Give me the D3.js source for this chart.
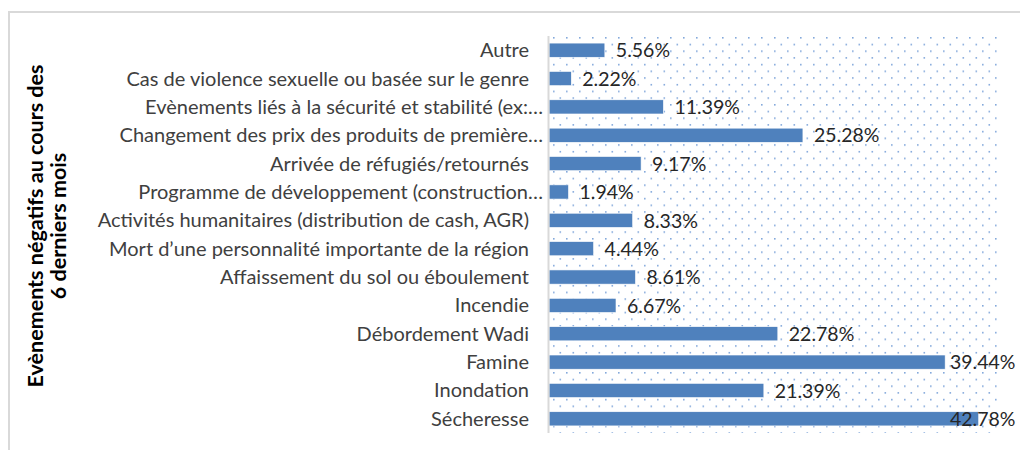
<!DOCTYPE html>
<html>
<head>
<meta charset="utf-8">
<script src="https://cdn.jsdelivr.net/npm/d3@7"></script>
<style>
  body { margin: 0; background: #fff; }
  svg { display: block; font-family: Lato, "Open Sans", sans-serif; }
</style>
</head>
<body>
<script>
// categories from top to bottom
var categories = [
  "Autre",
  "Cas de violence sexuelle ou basée sur le genre",
  "Evènements liés à la sécurité et stabilité (ex:…",
  "Changement des prix des produits de première…",
  "Arrivée de réfugiés/retournés",
  "Programme de développement (construction…",
  "Activités humanitaires (distribution de cash, AGR)",
  "Mort d’une personnalité importante de la région",
  "Affaissement du sol ou éboulement",
  "Incendie",
  "Débordement Wadi",
  "Famine",
  "Inondation",
  "Sécheresse"
]
var values = [5.56, 2.22, 11.39, 25.28, 9.17, 1.94, 8.33, 4.44, 8.61, 6.67, 22.78, 39.44, 21.39, 42.78]
var yTitle = ["Evènements négatifs au cours des", "6 derniers mois"]

var width = 1020, height = 450
var plot = {left: 549, right: 1001, top: 36, bottom: 433}

var svg = d3.select("body").append("svg")
    .attr("width", width)
    .attr("height", height)

// dotted background pattern
var defs = svg.append("defs")
var pat = defs.append("pattern")
    .attr("id", "dots")
    .attr("patternUnits", "userSpaceOnUse")
    .attr("x", plot.left + 4).attr("y", plot.top + 1)
    .attr("width", 13).attr("height", 13.4)
pat.append("rect").attr("x", 0).attr("y", 0).attr("width", 1.6).attr("height", 1.6).attr("fill", "#5b8ccf")
pat.append("rect").attr("x", 6.5).attr("y", 6.7).attr("width", 1.6).attr("height", 1.6).attr("fill", "#5b8ccf")

// outer frame (cut off at right / bottom)
svg.append("rect")
    .attr("x", 9).attr("y", 12)
    .attr("width", 1200).attr("height", 600)
    .attr("fill", "none")
    .attr("stroke", "#d9d9d9")
    .attr("stroke-width", 2)

var x = d3.scaleLinear().domain([0, 45]).range([plot.left, plot.right])
var y = d3.scaleBand().domain(categories).range([plot.top, plot.bottom])
    .paddingInner(0.5).paddingOuter(0.25)

svg.append("rect")
    .attr("x", plot.left).attr("y", plot.top)
    .attr("width", plot.right - plot.left).attr("height", plot.bottom - plot.top)
    .attr("fill", "url(#dots)")
    .attr("opacity", 0.75)

// bars
svg.selectAll(".bar")
    .data(values)
    .enter()
    .append("rect")
    .attr("class", "bar")
    .attr("x", x(0))
    .attr("y", function (d, i) { return y(categories[i]) })
    .attr("width", function (d) { return x(d) - x(0) })
    .attr("height", y.bandwidth())
    .attr("fill", "#4f81bd")
    .attr("stroke", "#ffffff")
    .attr("stroke-width", 0.6)

// axis line
svg.append("line")
    .attr("x1", plot.left - 0.5).attr("x2", plot.left - 0.5)
    .attr("y1", plot.top).attr("y2", plot.bottom)
    .attr("stroke", "#d9d9d9")
    .attr("stroke-width", 2)

// category labels
svg.selectAll(".cat")
    .data(categories)
    .enter()
    .append("text")
    .attr("class", "cat")
    .attr("x", function (d) { return d.slice(-1) == "…" ? 543 : 529 })
    .attr("y", function (d) { return y(d) + y.bandwidth() / 2 })
    .attr("dy", "0.35em")
    .attr("text-anchor", "end")
    .attr("font-size", "20px")
    .attr("fill", "#404040")
    .text(function (d) { return d })

// value labels
svg.selectAll(".val")
    .data(values)
    .enter()
    .append("text")
    .attr("class", "val")
    .attr("x", function (d) { return Math.min(x(d) + 11, 950) })
    .attr("y", function (d, i) { return y(categories[i]) + y.bandwidth() / 2 })
    .attr("dy", "0.37em")
    .attr("font-size", "19.5px")
    .attr("fill", "#262626")
    .text(function (d) { return d.toFixed(2) + "%" })

// y title
svg.append("text")
    .attr("transform", "translate(43,226) rotate(-90)")
    .attr("text-anchor", "middle")
    .attr("font-size", "21.5px")
    .attr("font-weight", "bold")
    .attr("fill", "#000")
    .selectAll("tspan")
    .data(yTitle)
    .enter()
    .append("tspan")
    .attr("x", 0)
    .attr("dy", function (d, i) { return i == 0 ? 0 : "1.08em" })
    .text(function (d) { return d })
</script>
</body>
</html>
